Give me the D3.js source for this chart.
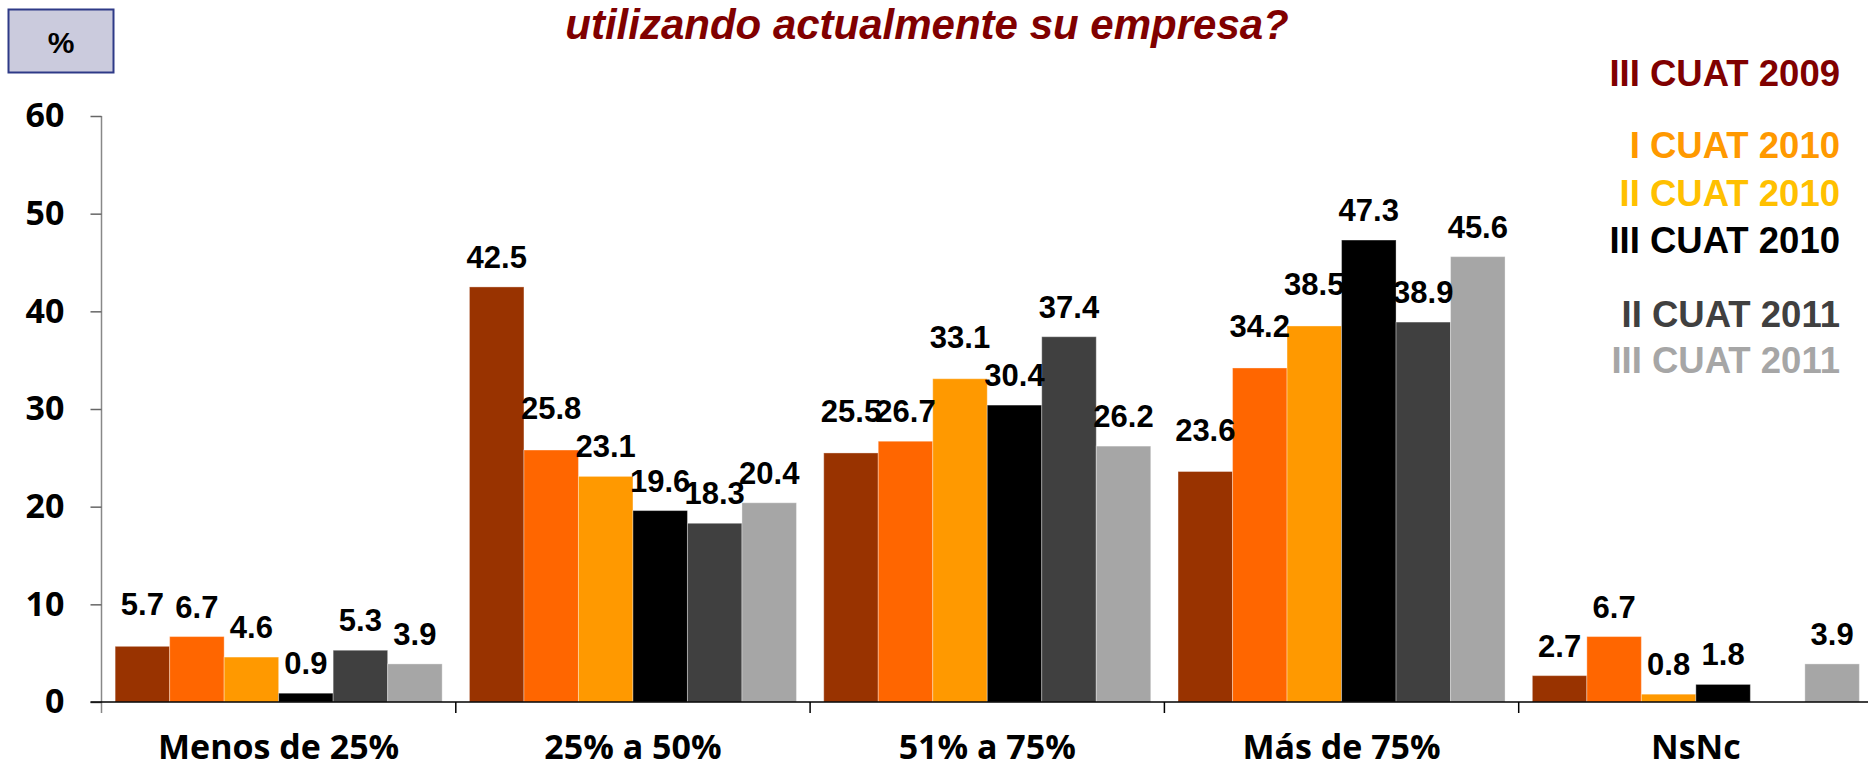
<!doctype html>
<meta charset="utf-8">

<style>
    body {
        margin: 0;
        background: #fff;
    }

    #chart {
        width: 1868px;
        height: 769px;
    }

    text {
        font-family: "Liberation Sans", Arial, sans-serif;
        font-weight: bold;
    }
</style>

<div id="chart"></div>

<script src="https://d3js.org/d3.v7.min.js"></script>

<script>

let categories = ["Menos de 25%", "25% a 50%", "51% a 75%", "Más de 75%", "NsNc"]
let seriesNames = ["III CUAT 2009", "I CUAT 2010", "II CUAT 2010", "III CUAT 2010", "II CUAT 2011", "III CUAT 2011"]

// one array per period, values in category order (null = no bar)
let cuat2009_3 = [5.7, 42.5, 25.5, 23.6, 2.7]
let cuat2010_1 = [6.7, 25.8, 26.7, 34.2, 6.7]
let cuat2010_2 = [4.6, 23.1, 33.1, 38.5, 0.8]
let cuat2010_3 = [0.9, 19.6, 30.4, 47.3, 1.8]
let cuat2011_2 = [5.3, 18.3, 37.4, 38.9, null]
let cuat2011_3 = [3.9, 20.4, 26.2, 45.6, 3.9]
let seriesValues = [cuat2009_3, cuat2010_1, cuat2010_2, cuat2010_3, cuat2011_2, cuat2011_3]

let yTicks = [0, 10, 20, 30, 40, 50, 60]

let barColors = ["#993300", "#ff6600", "#ff9900", "#000000", "#404040", "#a6a6a6"]
let legendColors = ["#800000", "#ff9900", "#ffc000", "#000000", "#404040", "#a6a6a6"]

let titleText = "utilizando actualmente su empresa?"

let width = 1868, height = 769

let svg = d3.select("#chart")
    .append("svg")
    .attr("width", width)
    .attr("height", height)

let plotLeft = 101.5, plotBottom = 702, plotTop = 116

let xScale = d3.scaleBand()
    .domain(categories)
    .range([plotLeft, plotLeft + 5 * 354.3])
    .paddingInner(0.077)
    .paddingOuter(0.0385)

let xInner = d3.scaleBand()
    .domain(d3.range(seriesNames.length))
    .range([0, xScale.bandwidth()])

let yScale = d3.scaleLinear().domain([0, 60]).range([plotBottom, plotTop])

// "%" box top left
svg.append("rect")
    .attr("x", 8.5).attr("y", 9.5)
    .attr("width", 105).attr("height", 63)
    .attr("fill", "#cbcbdd")
    .attr("stroke", "#2e3a87")
    .attr("stroke-width", 2)
svg.append("text")
    .attr("x", 61).attr("y", 53)
    .attr("text-anchor", "middle")
    .style("font-size", "30px")
    .text("%")

// title (top part is cut in the original)
svg.append("text")
    .attr("x", 927).attr("y", 39)
    .attr("text-anchor", "middle")
    .style("font-size", "42px")
    .style("font-style", "italic")
    .attr("fill", "#800000")
    .text(titleText)

// y axis
let yAxis = d3.axisLeft(yScale).tickValues(yTicks).tickSize(11).tickPadding(26)
let yG = svg.append("g")
    .attr("transform", "translate(" + plotLeft + ",0)")
    .call(yAxis)
yG.select(".domain").attr("stroke", "#888").attr("stroke-width", 1.5)
    .attr("d", "M0," + plotTop + "V" + (plotBottom + 11))
yG.selectAll(".tick line").attr("stroke", "#666").attr("stroke-width", 1.5)
yG.selectAll(".tick text")
    .attr("fill", "#000")
    .style("font-family", "'Open Sans', sans-serif")
    .style("font-size", "34px")
    .style("font-weight", "bold")

// bars
let groups = svg.selectAll("g.cat")
    .data(categories)
    .join("g")
    .attr("class", "cat")
    .attr("transform", c => "translate(" + xScale(c) + ",0)")

groups.selectAll("rect")
    .data((c, ci) => seriesValues.map((vals, si) => ({si: si, v: vals[ci]})).filter(d => d.v != null))
    .join("rect")
    .attr("x", d => xInner(d.si))
    .attr("width", xInner.bandwidth())
    .attr("y", d => yScale(d.v))
    .attr("height", d => plotBottom - yScale(d.v))
    .attr("fill", d => barColors[d.si])
    .attr("stroke", "rgba(255,255,255,0.35)")
    .attr("stroke-width", 1)

// labels that were dragged up a bit in the original
let raisedLabels = ["0-0", "1-1", "2-0", "2-2", "3-0", "3-1", "3-2"]

groups.selectAll("text.val")
    .data((c, ci) => seriesValues.map((vals, si) => ({ci: ci, si: si, v: vals[ci]})).filter(d => d.v != null))
    .join("text")
    .attr("class", "val")
    .attr("x", d => xInner(d.si) + xInner.bandwidth() / 2)
    .attr("y", d => yScale(d.v) - 19 - (raisedLabels.includes(d.ci + "-" + d.si) ? 12 : 0))
    .attr("text-anchor", "middle")
    .style("font-size", "31px")
    .text(d => d3.format(".1f")(d.v))

// x axis line + boundary ticks
svg.append("line")
    .attr("x1", plotLeft - 11).attr("x2", width)
    .attr("y1", plotBottom).attr("y2", plotBottom)
    .attr("stroke", "#000").attr("stroke-width", 1.5)

let bounds = d3.range(categories.length + 1)
    .map(i => xScale.range()[0] + i * xScale.step())
svg.selectAll("line.xtick")
    .data(bounds.slice(1))
    .join("line")
    .attr("class", "xtick")
    .attr("x1", d => d).attr("x2", d => d)
    .attr("y1", plotBottom).attr("y2", plotBottom + 11)
    .attr("stroke", "#000").attr("stroke-width", 1.5)

svg.selectAll("text.cat")
    .data(categories)
    .join("text")
    .attr("class", "cat")
    .attr("x", c => xScale(c) + xScale.bandwidth() / 2)
    .attr("y", 759)
    .attr("text-anchor", "middle")
    .style("font-family", "'Open Sans', sans-serif")
    .style("font-size", "34px")
    .text(c => c)

// legend (plain coloured text, right aligned)
let legendY = [86, 158, 206, 253, 327, 373]
svg.selectAll("text.leg")
    .data(seriesNames)
    .join("text")
    .attr("class", "leg")
    .attr("x", 1840)
    .attr("y", (d, i) => legendY[i])
    .attr("text-anchor", "end")
    .style("font-size", "36.5px")
    .attr("fill", (d, i) => legendColors[i])
    .text(d => d)

</script>
